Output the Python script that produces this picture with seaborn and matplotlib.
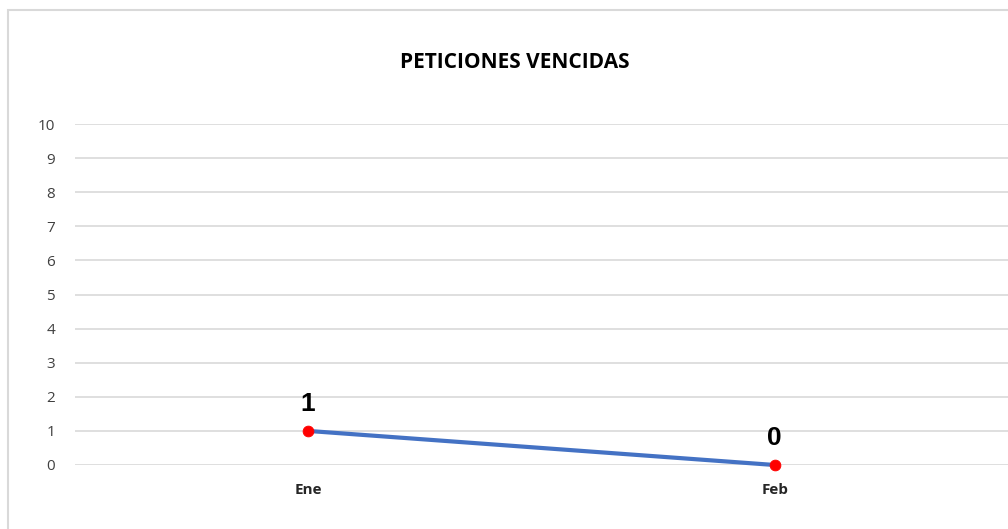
import pandas as pd
import matplotlib.pyplot as plt
import seaborn as sns
from matplotlib.patches import Rectangle

# Datos
meses = ["Ene", "Feb"]
vencidas = [1, 0]
ticks_y = list(range(0, 11))

df = pd.DataFrame({"Mes": meses, "Vencidas": vencidas})
df["pos"] = range(len(df))

sns.set_style("white")
plt.rcParams["font.family"] = ["Open Sans", "DejaVu Sans"]

fig = plt.figure(figsize=(10.08, 5.29), dpi=100)
ax = fig.add_axes([74.5 / 1008, 1 - 465 / 529, (1008 - 74.5) / 1008, (465 - 124) / 529])

# Borde exterior del gráfico
fig.patches.append(Rectangle((8 / 1008, -0.1), 1.2, 1 - 10 / 529 + 0.1,
                             transform=fig.transFigure, fill=False,
                             edgecolor="#D9D9D9", linewidth=1.5))

sns.lineplot(data=df, x="pos", y="Vencidas", ax=ax, color="#4472C4",
             linewidth=3, sort=False)
pts = sns.scatterplot(data=df, x="pos", y="Vencidas", ax=ax, color="red",
                      s=60, edgecolor="red", zorder=5)
for c in ax.collections:
    c.set_clip_on(False)
for l in ax.lines:
    l.set_clip_on(False)

# Etiquetas de datos
for x, y in zip(df["pos"], df["Vencidas"]):
    ax.annotate(str(y), (x, y), xytext=(0, 11), textcoords="offset points",
                ha="center", va="bottom", fontsize=19, fontweight="bold",
                family=["Liberation Sans", "DejaVu Sans"], color="black")

ax.set_xlim(-0.5, len(meses) - 0.5)
ax.set_ylim(0, 10)
ax.set_yticks(ticks_y)
ax.set_yticklabels([str(t) for t in ticks_y], fontsize=11, color="#404040")
ax.set_xticks(df["pos"])
ax.set_xticklabels(meses, fontsize=11, fontweight="bold", color="#262626")
ax.tick_params(axis="both", length=0)
ax.tick_params(axis="y", pad=14)
ax.tick_params(axis="x", pad=13)
ax.yaxis.grid(True, color="#D9D9D9", linewidth=1.2)
ax.set_axisbelow(True)
for s in ax.spines.values():
    s.set_visible(False)
ax.set_xlabel("")
ax.set_ylabel("")
ax.patch.set_alpha(0)

fig.text(515 / 1008, 1 - 63 / 529, "PETICIONES VENCIDAS", ha="center", va="center",
         fontsize=15, fontweight="bold", color="black")

plt.savefig("out.png", dpi=100)
